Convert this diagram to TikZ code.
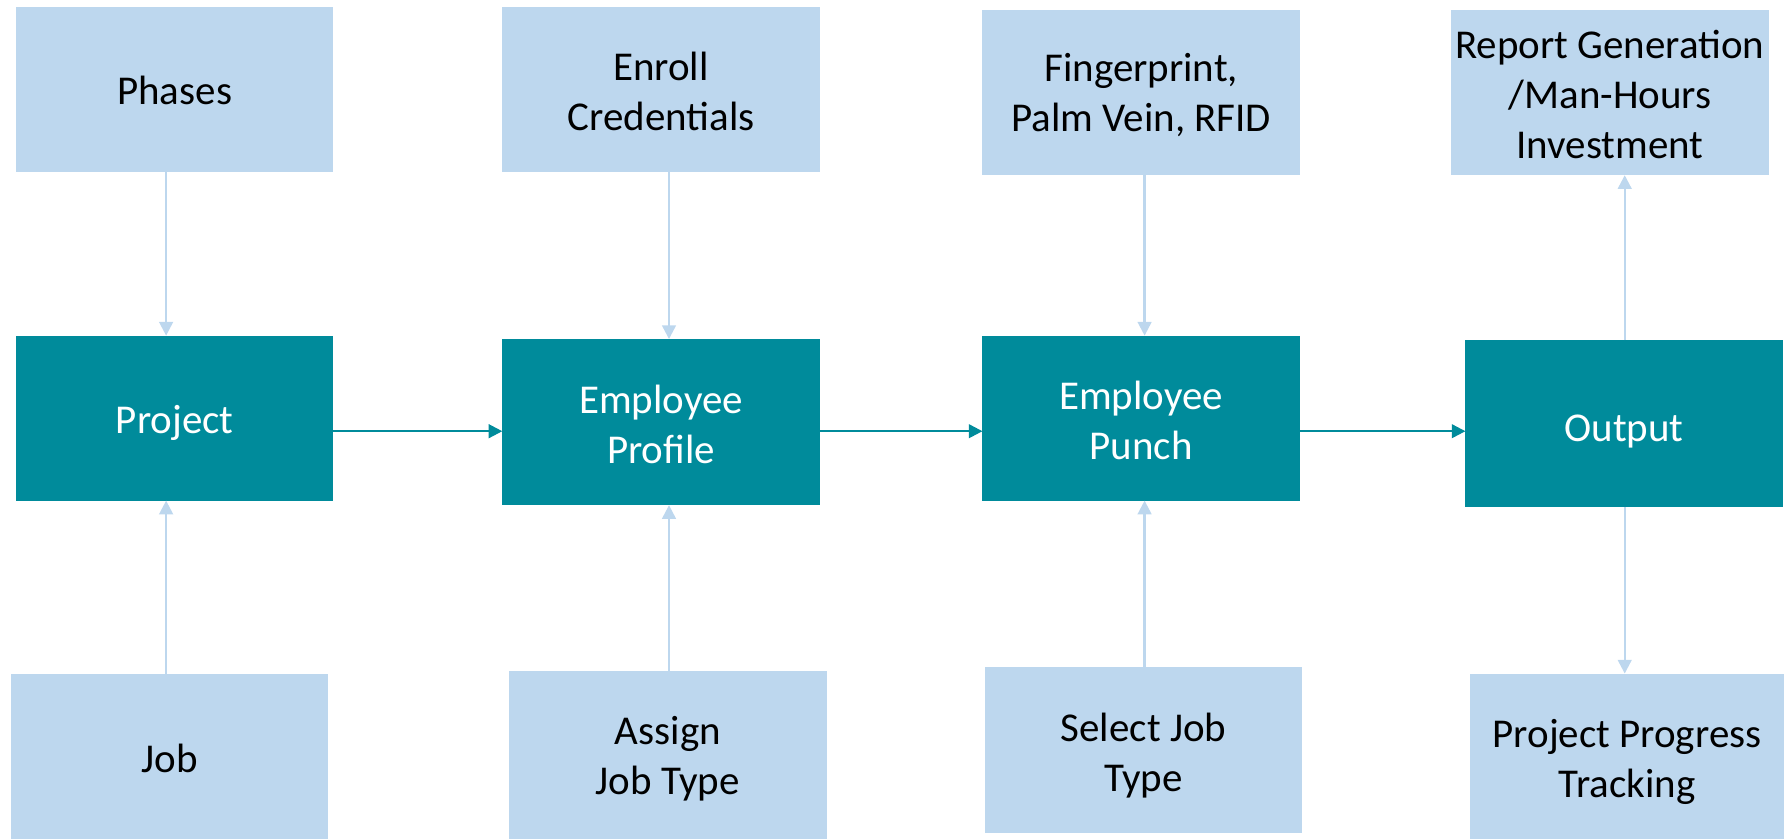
\documentclass[tikz,border=0pt]{standalone}
\usepackage{fontspec}
\setmainfont{Carlito}
\usetikzlibrary{arrows.meta}
\definecolor{lightbox}{HTML}{BDD7EE}
\definecolor{tealbox}{HTML}{008B9B}
\tikzset{
  lb/.style={fill=lightbox, draw=none, inner sep=0pt, outer sep=0pt,
    minimum width=139.5pt, minimum height=72.5pt},
  tb/.style={fill=tealbox, draw=none, inner sep=0pt, outer sep=0pt,
    minimum width=139.5pt, minimum height=72.5pt},
  btxt/.style={align=center, inner sep=0pt, text=black, font=\fontsize{18pt}{22pt}\selectfont},
  wtxt/.style={align=center, inner sep=0pt, text=white, font=\fontsize{18pt}{22pt}\selectfont},
  larr/.style={draw=lightbox, line width=1pt, -{Triangle[length=6pt,width=6pt]}},
  tarr/.style={draw=tealbox, line width=1pt, -{Triangle[length=6pt,width=6pt]}}
}
\begin{document}
\begin{tikzpicture}[x=0.5pt,y=-0.5pt]
\useasboundingbox (0,0) rectangle (1568,737.4);
% top row
\node[lb, label={[btxt, yshift=-0.5pt]center:Phases}] (phases) at (153.5,78.5) {};
\node[lb, label={[btxt, yshift=-1pt]center:{Enroll\\Credentials}}] (enroll) at (581,78.5) {};
\node[lb, label={[btxt, yshift=-1pt]center:{Fingerprint,\\Palm Vein, RFID}}] (finger) at (1003,81.5) {};
\node[lb, label={[btxt, yshift=-0.8pt]center:{Report Generation\\/Man-Hours\\Investment}}] (report) at (1415,81.5) {};
% middle row
\node[tb, label={[wtxt, yshift=-2pt]center:Project}] (project) at (153.5,367.5) {};
\node[tb, minimum height=73pt, label={[wtxt, yshift=-1pt]center:{Employee\\Profile}}] (profile) at (581,371) {};
\node[tb, label={[wtxt, yshift=-1pt]center:{Employee\\Punch}}] (punch) at (1003,367.5) {};
\node[tb, minimum height=73.5pt, label={[wtxt, yshift=-3.5pt]center:Output}] (output) at (1427.5,372.5) {};
% bottom row
\node[lb, label={[btxt, yshift=-1pt]center:Job}] (job) at (149,664.5) {};
\node[lb, minimum height=73.5pt, label={[btxt, yshift=-1.5pt]center:{Assign\\Job Type}}] (assign) at (587,663.5) {};
\node[lb, minimum height=73pt, label={[btxt, yshift=-2.5pt]center:{Select Job\\Type}}] (select) at (1005,659) {};
\node[lb, minimum width=138pt, label={[btxt, yshift=-2.5pt]center:{Project Progress\\Tracking}}] (progress) at (1430,664.5) {};
% connector positions
\coordinate (x1) at (146,0);
\coordinate (x2) at (588,0);
\coordinate (x3) at (1006,0);
\coordinate (x4) at (1428,0);
\coordinate (hy) at (0,379);
% vertical connectors
\draw[larr] (phases.south -| x1) -- (project.north -| x1);
\draw[larr] (job.north -| x1) -- (project.south -| x1);
\draw[larr] (enroll.south -| x2) -- (profile.north -| x2);
\draw[larr] (assign.north -| x2) -- (profile.south -| x2);
\draw[larr] (finger.south -| x3) -- (punch.north -| x3);
\draw[larr] (select.north -| x3) -- (punch.south -| x3);
\draw[larr] (output.north -| x4) -- (report.south -| x4);
\draw[larr] (output.south -| x4) -- (progress.north -| x4);
% horizontal connectors
\draw[tarr] (project.east |- hy) -- (profile.west |- hy);
\draw[tarr] (profile.east |- hy) -- (punch.west |- hy);
\draw[tarr] (punch.east |- hy) -- (output.west |- hy);
\end{tikzpicture}
\end{document}
